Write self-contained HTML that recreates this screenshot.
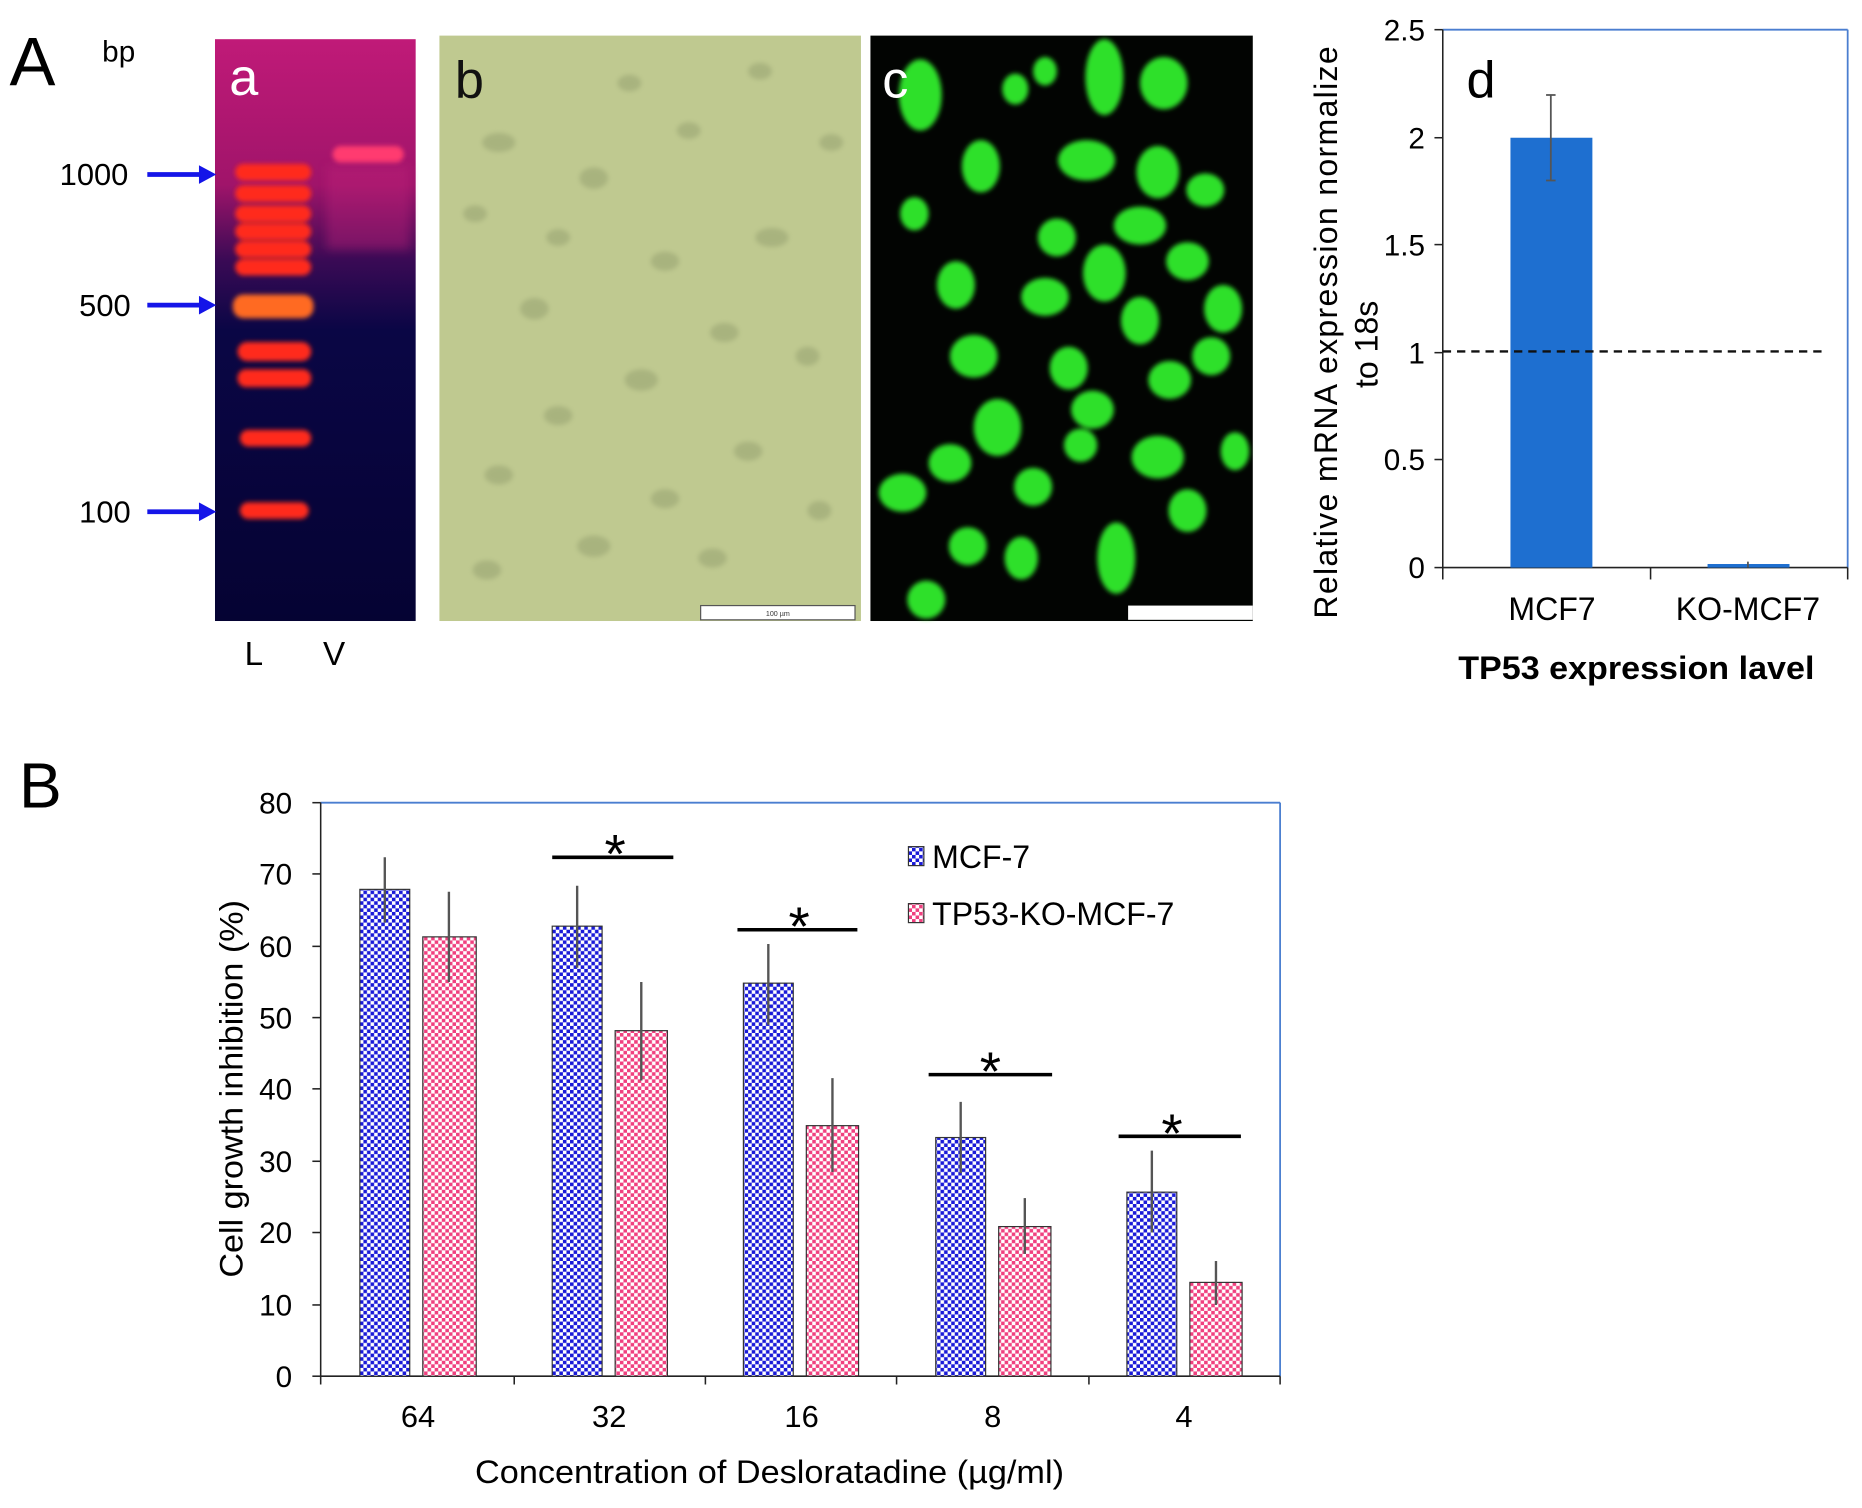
<!DOCTYPE html>
<html><head><meta charset="utf-8"><style>html,body{margin:0;padding:0;background:#fff}svg{display:block}</style></head>
<body>
<svg width="1862" height="1508" viewBox="0 0 1568 1270" xmlns="http://www.w3.org/2000/svg" font-family="Liberation Sans, Arial, sans-serif">
<defs>
<pattern id="pb" width="6" height="6" patternUnits="userSpaceOnUse"><rect width="6" height="6" fill="#fff"/><rect width="3" height="3" fill="#1a1ad8"/><rect x="3" y="3" width="3" height="3" fill="#1a1ad8"/></pattern>
<pattern id="pp" width="6" height="6" patternUnits="userSpaceOnUse"><rect width="6" height="6" fill="#fff"/><rect width="3" height="3" fill="#f0407f"/><rect x="3" y="3" width="3" height="3" fill="#f0407f"/></pattern>
<linearGradient id="gel" x1="0" y1="0" x2="0" y2="1"><stop offset="0" stop-color="#c01a78"/><stop offset="0.25" stop-color="#a0146a"/><stop offset="0.38" stop-color="#3a0a55"/><stop offset="0.5" stop-color="#0a0645"/><stop offset="1" stop-color="#050333"/></linearGradient>
<filter id="bl"><feGaussianBlur stdDeviation="2"/></filter>
<filter id="bl4"><feGaussianBlur stdDeviation="4"/></filter>
</defs>
<rect width="1568" height="1270" fill="#fff"/>
<!-- Panel A -->
<text x="8" y="72" font-size="58">A</text>
<text x="86" y="52" font-size="25">bp</text>
<rect x="181" y="33" width="169" height="490" fill="url(#gel)"/>
<g filter="url(#bl)" fill="#ff2a1a">
<rect x="198" y="138" width="64" height="14" rx="7"/><rect x="198" y="156" width="64" height="14" rx="7"/>
<rect x="198" y="173" width="64" height="14" rx="7"/><rect x="198" y="188" width="64" height="14" rx="7"/>
<rect x="198" y="203" width="64" height="14" rx="7"/><rect x="198" y="218" width="64" height="14" rx="7"/>
<rect x="196" y="248" width="68" height="20" rx="9" fill="#ff6a20"/>
<rect x="200" y="288" width="62" height="16" rx="8"/><rect x="200" y="311" width="62" height="15" rx="7"/>
<rect x="202" y="362" width="60" height="14" rx="7"/><rect x="202" y="423" width="58" height="14" rx="7"/>
<rect x="280" y="123" width="60" height="14" rx="7" fill="#ff3a70"/>
</g>
<rect x="275" y="140" width="70" height="70" fill="#c0207a" opacity="0.4" filter="url(#bl4)"/>
<text x="193" y="80" font-size="44" fill="#fff">a</text>
<g fill="#1515e8" stroke="#1515e8">
<line x1="124" y1="147" x2="170" y2="147" stroke-width="4"/><polygon points="168,140 181,147 168,154"/>
<line x1="124" y1="257" x2="170" y2="257" stroke-width="4"/><polygon points="168,250 181,257 168,264"/>
<line x1="124" y1="431" x2="170" y2="431" stroke-width="4"/><polygon points="168,424 181,431 168,438"/>
</g>
<g font-size="26" text-anchor="end"><text x="108" y="156">1000</text><text x="110" y="266">500</text><text x="110" y="440">100</text></g>
<text x="206" y="560" font-size="28">L</text><text x="272" y="560" font-size="28">V</text>
<!-- b -->
<rect x="370" y="30" width="355" height="493" fill="#bfc990"/>
<g fill="#8e9a6a" opacity="0.45" filter="url(#bl)">
<ellipse cx="420" cy="120" rx="14" ry="8"/><ellipse cx="500" cy="150" rx="12" ry="9"/><ellipse cx="580" cy="110" rx="10" ry="7"/><ellipse cx="650" cy="200" rx="14" ry="8"/><ellipse cx="450" cy="260" rx="12" ry="9"/><ellipse cx="540" cy="320" rx="14" ry="9"/><ellipse cx="630" cy="380" rx="12" ry="8"/><ellipse cx="420" cy="400" rx="12" ry="8"/><ellipse cx="500" cy="460" rx="14" ry="9"/><ellipse cx="680" cy="300" rx="10" ry="8"/><ellipse cx="600" cy="470" rx="12" ry="8"/><ellipse cx="470" cy="200" rx="10" ry="7"/>
<ellipse cx="400" cy="180" rx="10" ry="7"/><ellipse cx="560" cy="220" rx="12" ry="8"/><ellipse cx="700" cy="120" rx="10" ry="7"/><ellipse cx="610" cy="280" rx="12" ry="8"/><ellipse cx="470" cy="350" rx="12" ry="8"/><ellipse cx="690" cy="430" rx="10" ry="8"/><ellipse cx="560" cy="420" rx="12" ry="8"/><ellipse cx="410" cy="480" rx="12" ry="8"/><ellipse cx="530" cy="70" rx="10" ry="7"/><ellipse cx="640" cy="60" rx="10" ry="7"/>
</g>
<text x="383" y="82" font-size="44" fill="#111">b</text>
<rect x="590" y="510" width="130" height="12" fill="#fff" stroke="#555" stroke-width="1"/>
<text x="655" y="519" font-size="6" text-anchor="middle" fill="#333">100 µm</text>
<!-- c -->
<rect x="733" y="30" width="322" height="493" fill="#020402"/>
<g fill="#2ee02a" filter="url(#bl)">
<ellipse cx="930" cy="65" rx="16" ry="32"/><ellipse cx="855" cy="75" rx="11" ry="13"/><ellipse cx="980" cy="70" rx="20" ry="22"/><ellipse cx="775" cy="80" rx="18" ry="30"/>
<ellipse cx="826" cy="140" rx="16" ry="22"/><ellipse cx="915" cy="135" rx="24" ry="17"/><ellipse cx="975" cy="145" rx="18" ry="22"/><ellipse cx="1015" cy="160" rx="16" ry="14"/>
<ellipse cx="890" cy="200" rx="16" ry="16"/><ellipse cx="960" cy="190" rx="22" ry="16"/><ellipse cx="1000" cy="220" rx="18" ry="16"/><ellipse cx="930" cy="230" rx="18" ry="24"/>
<ellipse cx="880" cy="250" rx="20" ry="16"/><ellipse cx="960" cy="270" rx="16" ry="20"/><ellipse cx="805" cy="240" rx="16" ry="20"/><ellipse cx="1030" cy="260" rx="16" ry="20"/>
<ellipse cx="820" cy="300" rx="20" ry="18"/><ellipse cx="900" cy="310" rx="16" ry="18"/><ellipse cx="985" cy="320" rx="18" ry="16"/><ellipse cx="1020" cy="300" rx="16" ry="16"/>
<ellipse cx="840" cy="360" rx="20" ry="24"/><ellipse cx="800" cy="390" rx="18" ry="16"/><ellipse cx="920" cy="345" rx="18" ry="16"/><ellipse cx="975" cy="385" rx="22" ry="18"/>
<ellipse cx="760" cy="415" rx="20" ry="16"/><ellipse cx="870" cy="410" rx="16" ry="16"/><ellipse cx="910" cy="375" rx="14" ry="14"/><ellipse cx="1000" cy="430" rx="16" ry="18"/>
<ellipse cx="815" cy="460" rx="16" ry="16"/><ellipse cx="940" cy="470" rx="16" ry="30"/><ellipse cx="860" cy="470" rx="14" ry="18"/><ellipse cx="780" cy="505" rx="16" ry="16"/>
<ellipse cx="770" cy="180" rx="12" ry="14"/><ellipse cx="1040" cy="380" rx="12" ry="16"/><ellipse cx="880" cy="60" rx="10" ry="12"/>
</g>
<text x="743" y="82" font-size="44" fill="#fff">c</text>
<rect x="950" y="510" width="105" height="12" fill="#fff"/>
<!-- d -->
<g stroke="#4a7ed0" stroke-width="1.5" fill="none"><line x1="1215" y1="25" x2="1556" y2="25"/><line x1="1556" y1="25" x2="1556" y2="478"/></g>
<g stroke="#222" stroke-width="1.3">
<line x1="1215" y1="25" x2="1215" y2="478"/><line x1="1215" y1="478" x2="1556" y2="478"/>
<line x1="1208" y1="25" x2="1215" y2="25"/><line x1="1208" y1="116" x2="1215" y2="116"/><line x1="1208" y1="206" x2="1215" y2="206"/><line x1="1208" y1="297" x2="1215" y2="297"/><line x1="1208" y1="387" x2="1215" y2="387"/><line x1="1208" y1="478" x2="1215" y2="478"/>
<line x1="1215" y1="478" x2="1215" y2="488"/><line x1="1390" y1="478" x2="1390" y2="488"/><line x1="1556" y1="478" x2="1556" y2="488"/>
</g>
<rect x="1272" y="116" width="69" height="362" fill="#1e6fd0"/>
<rect x="1438" y="475" width="69" height="3" fill="#1e6fd0"/>
<g stroke="#555" stroke-width="1.5"><line x1="1306" y1="80" x2="1306" y2="152"/><line x1="1302" y1="80" x2="1310" y2="80"/><line x1="1302" y1="152" x2="1310" y2="152"/><line x1="1472" y1="473" x2="1472" y2="478"/></g>
<line x1="1215" y1="296" x2="1536" y2="296" stroke="#111" stroke-width="2" stroke-dasharray="7,5"/>
<g font-size="25" text-anchor="end"><text x="1200" y="34">2.5</text><text x="1200" y="125">2</text><text x="1200" y="215">1.5</text><text x="1200" y="306">1</text><text x="1200" y="396">0.5</text><text x="1200" y="487">0</text></g>
<text x="1235" y="82" font-size="44">d</text>
<g font-size="27" text-anchor="middle"><text x="1307" y="522">MCF7</text><text x="1472" y="522">KO-MCF7</text></g>
<text x="1378" y="572" font-size="27" font-weight="bold" text-anchor="middle" textLength="300" lengthAdjust="spacingAndGlyphs">TP53 expression lavel</text>
<text transform="translate(1126,280) rotate(-90)" font-size="27" text-anchor="middle" textLength="482" lengthAdjust="spacing">Relative  mRNA expression normalize</text>
<text transform="translate(1160,290) rotate(-90)" font-size="27" text-anchor="middle">to 18s</text>
<!-- Panel B -->
<text x="16" y="680" font-size="54">B</text>
<g stroke="#4a7ed0" stroke-width="1.5"><line x1="270" y1="676" x2="1078" y2="676"/><line x1="1078" y1="676" x2="1078" y2="1159"/></g>
<g stroke="#222" stroke-width="1.3">
<line x1="270" y1="676" x2="270" y2="1159"/><line x1="270" y1="1159" x2="1078" y2="1159"/>
<line x1="263" y1="676" x2="270" y2="676"/><line x1="263" y1="736" x2="270" y2="736"/><line x1="263" y1="797" x2="270" y2="797"/><line x1="263" y1="857" x2="270" y2="857"/><line x1="263" y1="917" x2="270" y2="917"/><line x1="263" y1="978" x2="270" y2="978"/><line x1="263" y1="1038" x2="270" y2="1038"/><line x1="263" y1="1099" x2="270" y2="1099"/><line x1="263" y1="1159" x2="270" y2="1159"/>
<line x1="270" y1="1159" x2="270" y2="1166"/><line x1="433" y1="1159" x2="433" y2="1166"/><line x1="594" y1="1159" x2="594" y2="1166"/><line x1="755" y1="1159" x2="755" y2="1166"/><line x1="917" y1="1159" x2="917" y2="1166"/><line x1="1078" y1="1159" x2="1078" y2="1166"/>
</g>
<g font-size="25" text-anchor="end"><text x="246" y="685">80</text><text x="246" y="745">70</text><text x="246" y="806">60</text><text x="246" y="866">50</text><text x="246" y="926">40</text><text x="246" y="987">30</text><text x="246" y="1047">20</text><text x="246" y="1108">10</text><text x="246" y="1168">0</text></g>
<g stroke="#333" stroke-width="1">
<rect x="303" y="749" width="42" height="410" fill="url(#pb)"/><rect x="356" y="789" width="45" height="370" fill="url(#pp)"/>
<rect x="465" y="780" width="42" height="379" fill="url(#pb)"/><rect x="518" y="868" width="44" height="291" fill="url(#pp)"/>
<rect x="626" y="828" width="42" height="331" fill="url(#pb)"/><rect x="679" y="948" width="44" height="211" fill="url(#pp)"/>
<rect x="788" y="958" width="42" height="201" fill="url(#pb)"/><rect x="841" y="1033" width="44" height="126" fill="url(#pp)"/>
<rect x="949" y="1004" width="42" height="155" fill="url(#pb)"/><rect x="1002" y="1080" width="44" height="79" fill="url(#pp)"/>
</g>
<g stroke="#555" stroke-width="2">
<line x1="324" y1="722" x2="324" y2="777"/><line x1="378" y1="751" x2="378" y2="827"/>
<line x1="486" y1="746" x2="486" y2="815"/><line x1="540" y1="827" x2="540" y2="910"/>
<line x1="647" y1="795" x2="647" y2="863"/><line x1="701" y1="908" x2="701" y2="987"/>
<line x1="809" y1="928" x2="809" y2="988"/><line x1="863" y1="1009" x2="863" y2="1056"/>
<line x1="970" y1="969" x2="970" y2="1038"/><line x1="1024" y1="1062" x2="1024" y2="1099"/>
</g>
<g stroke="#000" stroke-width="3"><line x1="465" y1="722" x2="567" y2="722"/><line x1="621" y1="783" x2="722" y2="783"/><line x1="782" y1="905" x2="886" y2="905"/><line x1="942" y1="957" x2="1045" y2="957"/></g>
<g font-size="46" text-anchor="middle"><text x="518" y="735">*</text><text x="673" y="796">*</text><text x="834" y="918">*</text><text x="987" y="970">*</text></g>
<rect x="765" y="713" width="13" height="16" fill="url(#pb)" stroke="#333"/><rect x="765" y="761" width="13" height="16" fill="url(#pp)" stroke="#333"/>
<g font-size="27"><text x="785" y="731">MCF-7</text><text x="785" y="779">TP53-KO-MCF-7</text></g>
<g font-size="26" text-anchor="middle"><text x="352" y="1202">64</text><text x="513" y="1202">32</text><text x="675" y="1202">16</text><text x="836" y="1202">8</text><text x="997" y="1202">4</text></g>
<text x="648" y="1249" font-size="27" text-anchor="middle" textLength="496" lengthAdjust="spacingAndGlyphs">Concentration of Desloratadine (µg/ml)</text>
<text transform="translate(204,917) rotate(-90)" font-size="27" text-anchor="middle" textLength="318" lengthAdjust="spacingAndGlyphs">Cell growth inhibition (%)</text>
</svg>
</body></html>
